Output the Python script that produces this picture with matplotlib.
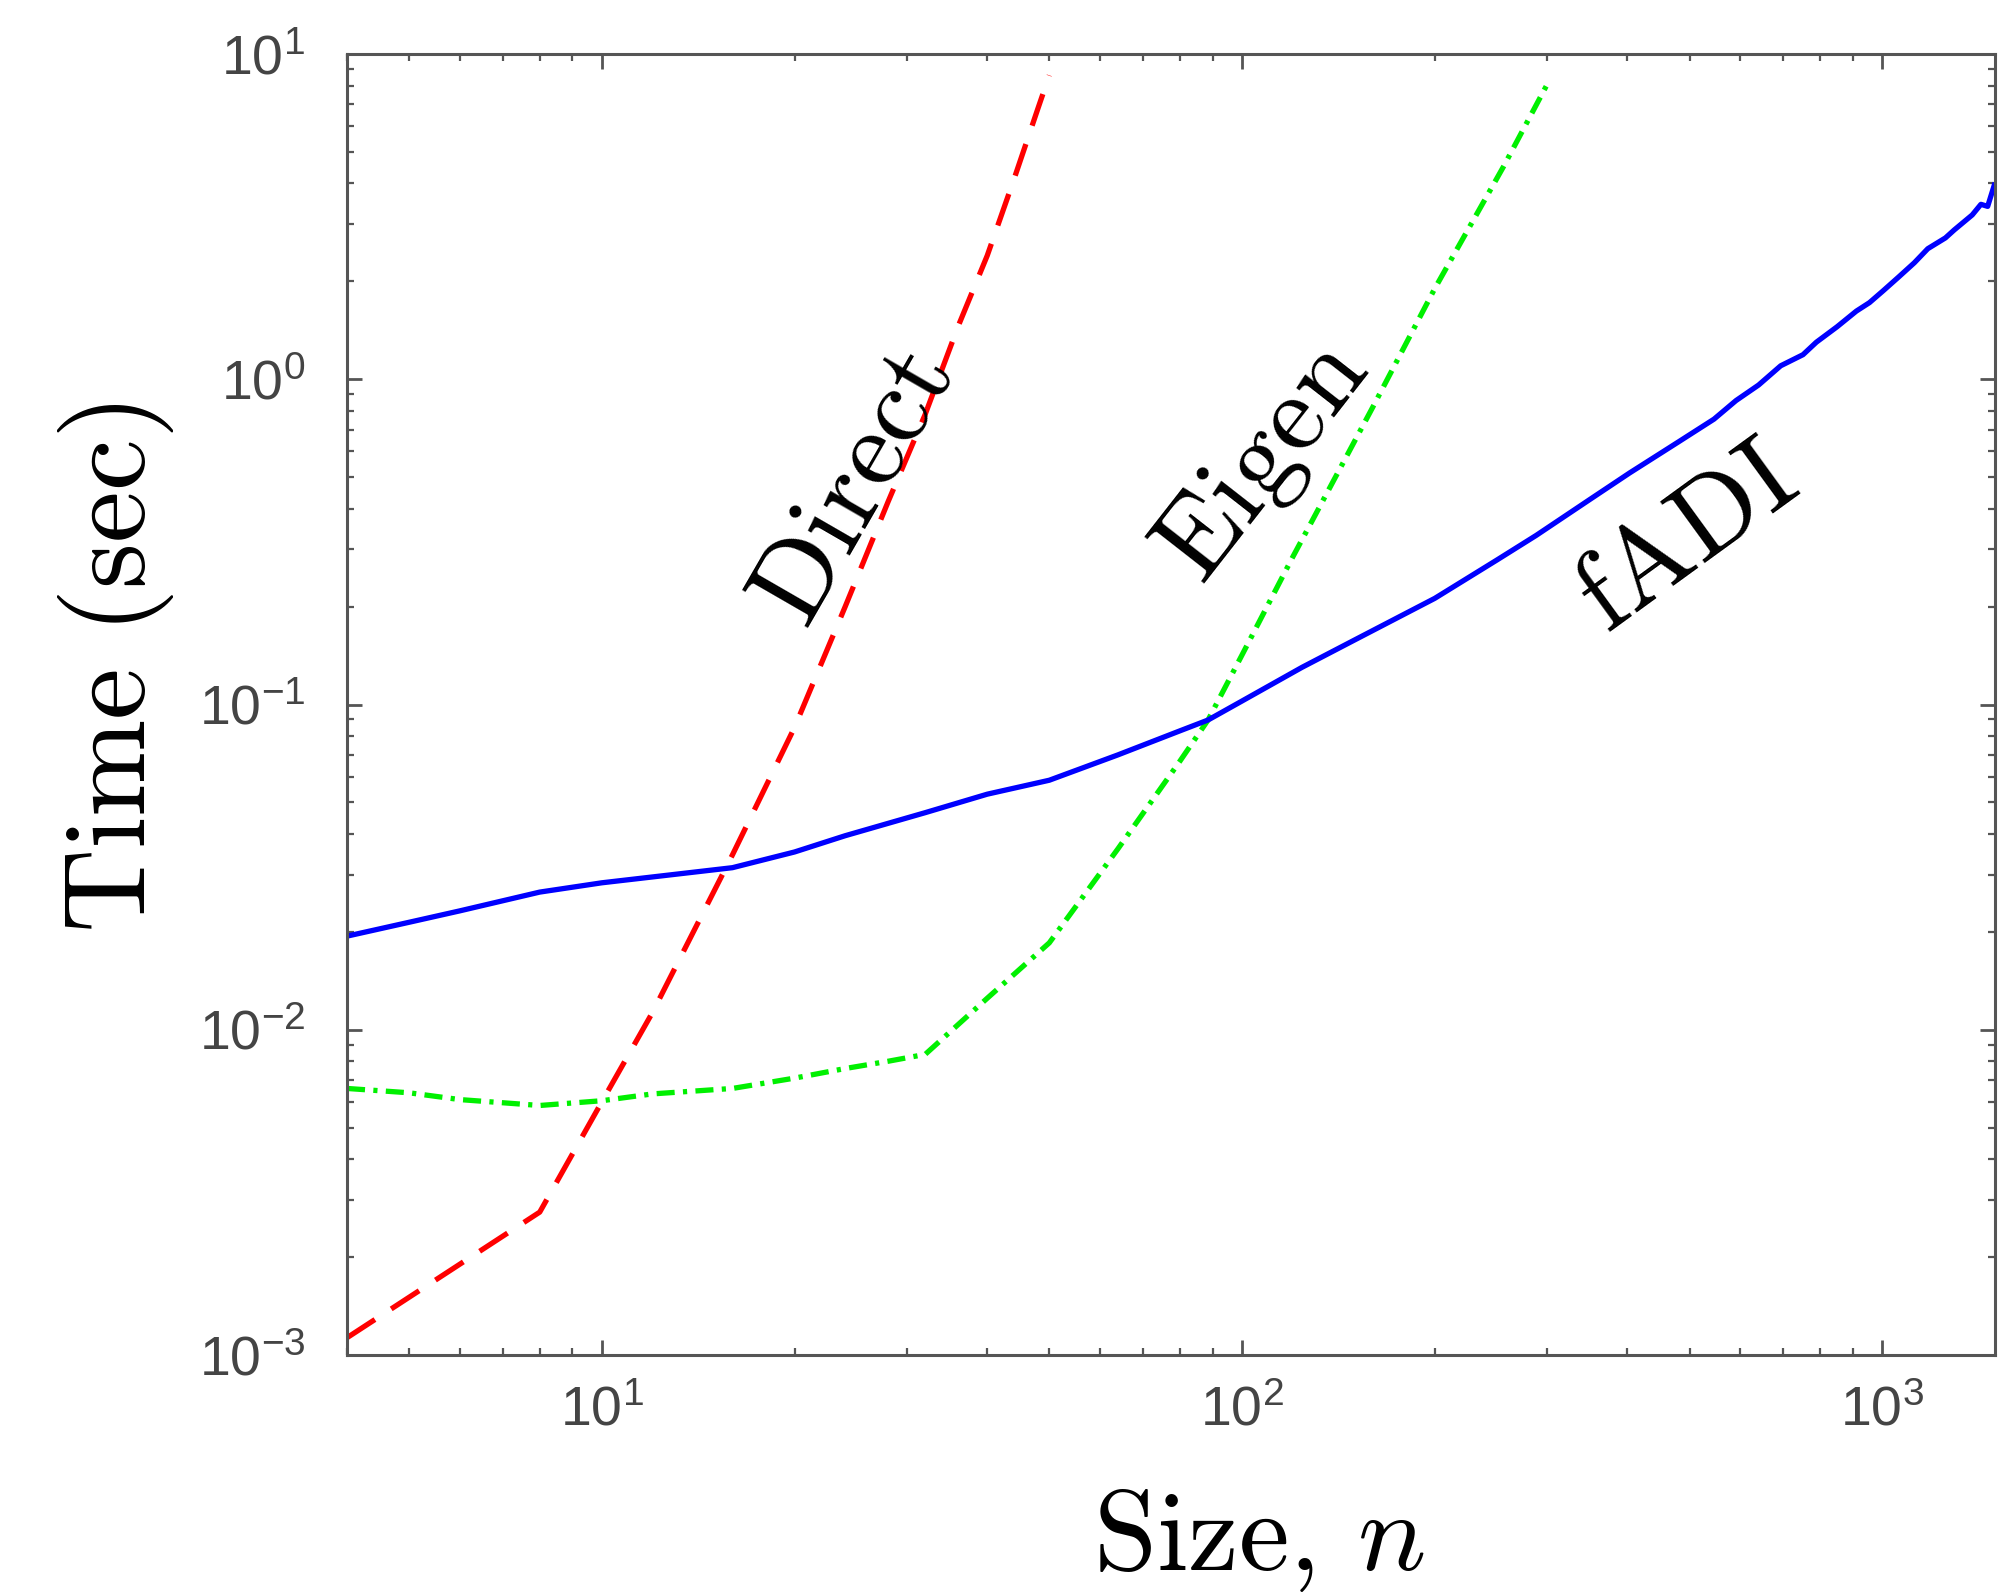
import matplotlib
matplotlib.use("Agg")
import matplotlib.pyplot as plt
from matplotlib.ticker import LogLocator, LogFormatterSciNotation, NullFormatter

plt.rcParams['font.family'] = ['Liberation Sans', 'DejaVu Sans']
plt.rcParams['mathtext.fontset'] = 'cm'
plt.rcParams['lines.scale_dashes'] = False

# ---- data ----
direct_n = [4, 8, 10, 12, 16, 20, 24, 28, 32, 36, 40, 44, 48, 50]
direct_t = [1.13e-3, 2.75e-3, 6.0e-3, 1.13e-2, 3.45e-2, 8.5e-2, 0.20, 0.42,
            0.78, 1.45, 2.4, 4.1, 6.8, 8.6]

eigen_n = [4, 5, 6, 8, 10, 12, 16, 20, 24, 28, 32, 40, 50, 64, 80, 88.5,
           100, 120, 128, 160, 200, 256, 300]
eigen_t = [6.6e-3, 6.4e-3, 6.1e-3, 5.85e-3, 6.05e-3, 6.35e-3, 6.6e-3, 7.1e-3,
           7.6e-3, 8.0e-3, 8.4e-3, 1.25e-2, 1.85e-2, 3.6e-2, 6.7e-2, 8.96e-2,
           0.142, 0.284, 0.36, 0.82, 1.9, 4.5, 8.1]

fadi_n = [4, 5, 6, 8, 10, 12, 16, 20, 24, 32, 40, 50, 64, 80, 88.5, 100, 124,
          150, 200, 250, 288, 350, 403, 480, 546, 591, 641, 694, 752, 789,
          850, 911, 955, 1003, 1060, 1122, 1178, 1255, 1296, 1382, 1426, 1461,
          1496]
fadi_t = [0.0194, 0.0214, 0.0232, 0.0265, 0.0283, 0.0295, 0.0315, 0.0352,
          0.0395, 0.0465, 0.053, 0.0585, 0.070, 0.083, 0.0896, 0.1025, 0.130,
          0.158, 0.212, 0.278, 0.331, 0.428, 0.515, 0.641, 0.754, 0.86,
          0.96, 1.10, 1.19, 1.30, 1.45, 1.62, 1.72, 1.87, 2.06, 2.28, 2.52,
          2.72, 2.88, 3.2, 3.45, 3.40, 3.95]

labels = ["Direct", "Eigen", "fADI"]
label_pos = [(24.9, 0.46), (108.7, 0.555), (497, 0.32)]
label_rot = [60, 52, 36]

xlim = (4, 1500)
ylim = (1e-3, 1e1)

# ---- figure ----
W, H = 2014, 1596
fig = plt.figure(figsize=(W / 100, H / 100), dpi=100)
L, R, T, B = 347, 1995, 54, 1355
ax = fig.add_axes([L / W, 1 - B / H, (R - L) / W, (B - T) / H])

ax.plot(direct_n, direct_t, color='#ff0000', lw=3.8, linestyle=(0, (24, 14)),
        dash_capstyle='butt')
ax.plot(eigen_n, eigen_t, color='#00f000', lw=3.8, linestyle=(0, (13, 6, 3, 6)),
        dash_capstyle='butt')
ax.plot(fadi_n, fadi_t, color='#0000ff', lw=3.8)

ax.set_xscale('log')
ax.set_yscale('log')
ax.set_xlim(*xlim)
ax.set_ylim(*ylim)

ax.xaxis.set_major_locator(LogLocator(base=10, numticks=10))
ax.yaxis.set_major_locator(LogLocator(base=10, numticks=10))
ax.xaxis.set_minor_locator(LogLocator(base=10, subs=range(2, 10), numticks=20))
ax.yaxis.set_minor_locator(LogLocator(base=10, subs=range(2, 10), numticks=20))
ax.xaxis.set_major_formatter(LogFormatterSciNotation())
ax.yaxis.set_major_formatter(LogFormatterSciNotation())
ax.xaxis.set_minor_formatter(NullFormatter())
ax.yaxis.set_minor_formatter(NullFormatter())

spine_col = '#555555'
for s in ax.spines.values():
    s.set_color(spine_col)
    s.set_linewidth(2.2)

ax.tick_params(which='both', direction='in', top=True, right=True,
               color=spine_col)
ax.tick_params(which='major', length=11, width=2.0)
ax.tick_params(which='minor', length=5, width=1.6)
ax.tick_params(axis='y', which='major', pad=30, labelsize=40,
               labelcolor='#444444')
ax.tick_params(axis='x', which='major', pad=22, labelsize=40,
               labelcolor='#444444')

for txt, (xp, yp), rot in zip(labels, label_pos, label_rot):
    ax.text(xp, yp, r'$\mathrm{%s}$' % txt, fontsize=80, rotation=rot,
            rotation_mode='anchor', ha='center', va='center', color='black')

fig.text(1259 / W, 1 - 1541 / H, r'$\mathrm{Size,}\,n$', fontsize=82,
         ha='center', va='center')
fig.text(116 / W, 1 - 668 / H, r'$\mathrm{Time\ (sec)}$', fontsize=84,
         ha='center', va='center', rotation=90)

fig.savefig('out.png', dpi=100)
